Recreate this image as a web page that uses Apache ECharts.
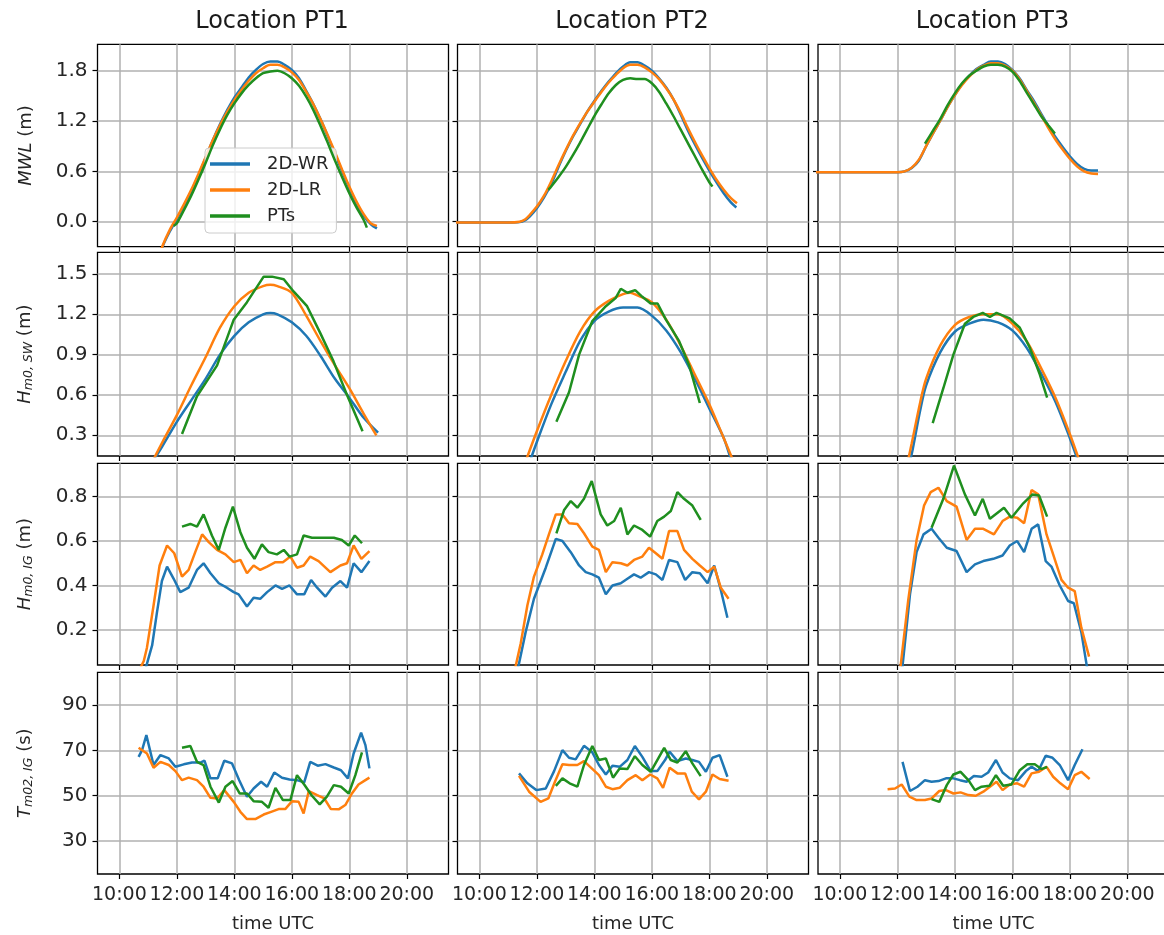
<!DOCTYPE html>
<html><head><meta charset="utf-8">
<script src="https://cdn.jsdelivr.net/npm/echarts@6/dist/echarts.min.js"></script>
<style>html,body{margin:0;padding:0;background:#fff}#c{width:1164px;height:935px}</style>
</head><body><div id="c"></div><script>
// ---------------- DATA (time in decimal hours UTC, value) ----------------
const locations = ['Location PT1', 'Location PT2', 'Location PT3'];
const seriesNames = ['2D-WR', '2D-LR', 'PTs'];
const xTickValues = [10, 12, 14, 16, 18, 20];
const xTickLabels = ['10:00', '12:00', '14:00', '16:00', '18:00', '20:00'];
const yTickValues = [[0, 0.6, 1.2, 1.8], [0.3, 0.6, 0.9, 1.2, 1.5], [0.2, 0.4, 0.6, 0.8], [30, 50, 70, 90]];
const yTickLabels = [['0.0', '0.6', '1.2', '1.8'], ['0.3', '0.6', '0.9', '1.2', '1.5'], ['0.2', '0.4', '0.6', '0.8'], ['30', '50', '70', '90']];
const yNames = ['{i|MWL} (m)', '{i|H}{s|m0, SW} (m)', '{i|H}{s|m0, IG} (m)', '{i|T}{s|m02, IG} (s)'];

// Row 1: MWL (m)
const mwl_PT1_WR = [[11.3,-0.5],[11.5,-0.30],[11.75,-0.12],[12.0,0.03],[12.25,0.19],[12.5,0.36],[12.75,0.55],[13.0,0.76],[13.25,0.97],[13.5,1.16],[13.75,1.33],[14.0,1.48],[14.25,1.60],[14.5,1.72],[14.75,1.81],[15.0,1.88],[15.25,1.91],[15.5,1.91],[15.75,1.87],[16.0,1.81],[16.25,1.71],[16.5,1.56],[16.75,1.40],[17.0,1.22],[17.25,1.02],[17.5,0.81],[17.75,0.60],[18.0,0.40],[18.25,0.22],[18.5,0.07],[18.75,-0.03],[18.96,-0.08]];
const mwl_PT1_LR = [[11.3,-0.5],[11.5,-0.29],[11.75,-0.10],[12.0,0.05],[12.25,0.21],[12.5,0.38],[12.75,0.57],[13.0,0.77],[13.25,0.97],[13.5,1.15],[13.75,1.31],[14.0,1.45],[14.25,1.57],[14.5,1.68],[14.75,1.77],[15.0,1.83],[15.25,1.87],[15.5,1.87],[15.75,1.84],[16.0,1.78],[16.25,1.69],[16.5,1.55],[16.75,1.40],[17.0,1.22],[17.25,1.03],[17.5,0.83],[17.75,0.62],[18.0,0.42],[18.25,0.24],[18.5,0.09],[18.75,-0.02],[18.96,-0.05]];
const mwl_PT1_PT = [[11.89,-0.05],[12.0,-0.02],[12.25,0.14],[12.5,0.31],[12.75,0.50],[13.0,0.70],[13.25,0.91],[13.5,1.10],[13.75,1.27],[14.0,1.41],[14.25,1.53],[14.5,1.63],[14.75,1.71],[15.0,1.77],[15.25,1.79],[15.5,1.80],[15.75,1.77],[16.0,1.71],[16.25,1.62],[16.5,1.49],[16.75,1.33],[17.0,1.14],[17.25,0.94],[17.5,0.73],[17.75,0.53],[18.0,0.34],[18.25,0.17],[18.5,0.02],[18.61,-0.07]];
const mwl_PT2_WR = [[9.0,-0.01],[10.0,-0.01],[11.0,-0.01],[11.4,-0.005],[11.6,0.02],[11.75,0.06],[12.0,0.16],[12.25,0.29],[12.5,0.45],[12.75,0.65],[13.0,0.84],[13.25,1.01],[13.5,1.16],[13.75,1.31],[14.0,1.44],[14.25,1.56],[14.5,1.67],[14.75,1.77],[15.0,1.85],[15.25,1.90],[15.5,1.90],[15.75,1.86],[16.0,1.80],[16.25,1.71],[16.5,1.60],[16.75,1.46],[17.0,1.28],[17.25,1.09],[17.5,0.92],[17.75,0.76],[18.0,0.61],[18.25,0.47],[18.5,0.34],[18.75,0.23],[18.94,0.17]];
const mwl_PT2_LR = [[9.0,-0.01],[10.0,-0.01],[11.0,-0.01],[11.4,0.0],[11.6,0.03],[11.75,0.08],[12.0,0.18],[12.25,0.31],[12.5,0.48],[12.75,0.67],[13.0,0.85],[13.25,1.02],[13.5,1.17],[13.75,1.31],[14.0,1.43],[14.25,1.55],[14.5,1.66],[14.75,1.75],[15.0,1.83],[15.25,1.87],[15.5,1.87],[15.75,1.84],[16.0,1.78],[16.25,1.70],[16.5,1.59],[16.75,1.46],[17.0,1.30],[17.25,1.12],[17.5,0.95],[17.75,0.79],[18.0,0.64],[18.25,0.50],[18.5,0.38],[18.75,0.28],[18.96,0.22]];
const mwl_PT2_PT = [[12.40,0.38],[12.5,0.42],[12.75,0.53],[13.0,0.65],[13.25,0.79],[13.5,0.94],[13.75,1.10],[14.0,1.26],[14.25,1.40],[14.5,1.53],[14.75,1.63],[15.0,1.69],[15.25,1.71],[15.5,1.70],[15.75,1.70],[16.0,1.65],[16.25,1.55],[16.5,1.41],[16.75,1.26],[17.0,1.10],[17.25,0.94],[17.5,0.78],[17.75,0.62],[18.0,0.47],[18.11,0.42]];
const mwl_PT3_WR = [[9.0,0.59],[10.0,0.59],[11.0,0.59],[12.0,0.59],[12.25,0.60],[12.5,0.64],[12.75,0.73],[13.0,0.90],[13.25,1.06],[13.5,1.21],[13.75,1.37],[14.0,1.51],[14.25,1.64],[14.5,1.74],[14.75,1.82],[15.0,1.87],[15.25,1.91],[15.5,1.91],[15.75,1.88],[16.0,1.81],[16.25,1.71],[16.5,1.57],[16.75,1.44],[17.0,1.29],[17.25,1.14],[17.5,1.01],[17.75,0.89],[18.0,0.78],[18.25,0.69],[18.5,0.63],[18.75,0.61],[18.98,0.61]];
const mwl_PT3_LR = [[9.0,0.59],[10.0,0.59],[11.0,0.59],[12.0,0.59],[12.25,0.60],[12.5,0.645],[12.75,0.74],[13.0,0.90],[13.25,1.06],[13.5,1.21],[13.75,1.37],[14.0,1.51],[14.25,1.63],[14.5,1.73],[14.75,1.81],[15.0,1.86],[15.25,1.89],[15.5,1.89],[15.75,1.86],[16.0,1.80],[16.25,1.70],[16.5,1.56],[16.75,1.42],[17.0,1.27],[17.25,1.12],[17.5,0.98],[17.75,0.86],[18.0,0.75],[18.25,0.66],[18.5,0.60],[18.75,0.575],[18.98,0.57]];
const mwl_PT3_PT = [[12.96,0.93],[13.25,1.09],[13.5,1.23],[13.75,1.39],[14.0,1.53],[14.25,1.65],[14.5,1.74],[14.75,1.80],[15.0,1.85],[15.25,1.87],[15.5,1.87],[15.75,1.85],[16.0,1.79],[16.25,1.68],[16.5,1.54],[16.75,1.40],[17.0,1.26],[17.25,1.15],[17.48,1.05]];

// Row 2: Hm0,SW (m)
const hsw_PT1_WR = [[11.0,0.05],[11.5,0.22],[12.0,0.40],[12.5,0.56],[13.0,0.72],[13.5,0.90],[14.0,1.04],[14.5,1.14],[15.0,1.20],[15.25,1.21],[15.5,1.20],[16.0,1.14],[16.5,1.04],[17.0,0.89],[17.5,0.72],[18.0,0.58],[18.5,0.43],[19.0,0.32]];
const hsw_PT1_LR = [[11.0,0.04],[11.25,0.146],[11.5,0.25],[12.0,0.45],[12.5,0.67],[13.0,0.88],[13.5,1.10],[14.0,1.26],[14.5,1.36],[15.0,1.41],[15.25,1.42],[15.5,1.41],[16.0,1.36],[16.5,1.19],[17.0,1.00],[17.5,0.82],[18.0,0.65],[18.5,0.46],[18.94,0.30]];
const hsw_PT1_PT = [[12.18,0.31],[12.70,0.59],[13.40,0.82],[13.98,1.16],[14.44,1.29],[15.02,1.48],[15.31,1.48],[15.72,1.46],[16.06,1.37],[16.53,1.26],[16.99,1.06],[17.45,0.85],[17.92,0.60],[18.46,0.33]];
const hsw_PT2_WR = [[11.75,0.10],[12.0,0.25],[12.5,0.53],[13.0,0.77],[13.5,1.0],[14.0,1.15],[14.5,1.22],[15.0,1.25],[15.5,1.25],[16.0,1.19],[16.5,1.08],[17.0,0.92],[17.5,0.72],[18.0,0.50],[18.5,0.28],[18.75,0.12]];
const hsw_PT2_LR = [[11.6,0.10],[12.0,0.33],[12.5,0.60],[13.0,0.85],[13.5,1.07],[14.0,1.22],[14.5,1.30],[15.0,1.35],[15.25,1.36],[15.5,1.34],[16.0,1.29],[16.5,1.16],[17.0,0.97],[17.5,0.75],[18.0,0.53],[18.5,0.28],[18.85,0.10]];
const hsw_PT2_PT = [[12.68,0.40],[13.12,0.62],[13.47,0.90],[13.93,1.15],[14.4,1.26],[14.74,1.32],[14.92,1.39],[15.15,1.36],[15.42,1.38],[15.67,1.33],[15.96,1.28],[16.2,1.28],[16.49,1.16],[16.95,1.0],[17.3,0.82],[17.67,0.54]];
const hsw_PT3_WR = [[12.42,0.10],[12.5,0.16],[12.79,0.48],[13.0,0.67],[13.5,0.92],[14.0,1.07],[14.5,1.13],[15.0,1.16],[15.5,1.14],[16.0,1.08],[16.5,0.95],[17.0,0.76],[17.5,0.55],[18.0,0.28],[18.3,0.10]];
const hsw_PT3_LR = [[12.36,0.10],[12.5,0.24],[12.8,0.55],[13.0,0.72],[13.5,0.97],[14.0,1.12],[14.5,1.18],[15.0,1.20],[15.5,1.20],[16.0,1.13],[16.5,1.00],[17.0,0.80],[17.5,0.58],[18.0,0.31],[18.35,0.10]];
const hsw_PT3_PT = [[13.23,0.39],[13.6,0.65],[13.95,0.90],[14.35,1.13],[14.64,1.18],[14.97,1.21],[15.22,1.18],[15.45,1.21],[15.91,1.17],[16.26,1.10],[16.61,0.95],[16.96,0.75],[17.21,0.58]];

// Row 3: Hm0,IG (m)
const hig_PT1_WR = [[10.9,0.02],[11.14,0.13],[11.31,0.28],[11.48,0.42],[11.66,0.485],[11.89,0.43],[12.12,0.37],[12.41,0.39],[12.70,0.47],[12.93,0.50],[13.17,0.455],[13.46,0.41],[13.74,0.39],[13.98,0.37],[14.15,0.36],[14.44,0.305],[14.67,0.345],[14.9,0.34],[15.14,0.37],[15.43,0.40],[15.66,0.385],[15.92,0.40],[16.18,0.36],[16.43,0.36],[16.67,0.425],[16.88,0.39],[17.17,0.35],[17.40,0.39],[17.69,0.42],[17.92,0.39],[18.15,0.50],[18.42,0.46],[18.70,0.51]];
const hig_PT1_LR = [[10.7,0.02],[10.85,0.06],[10.96,0.12],[11.19,0.31],[11.40,0.49],[11.66,0.58],[11.91,0.545],[12.18,0.44],[12.41,0.47],[12.64,0.55],[12.88,0.63],[13.11,0.595],[13.40,0.56],[13.69,0.54],[13.98,0.505],[14.21,0.515],[14.44,0.455],[14.67,0.49],[14.9,0.47],[15.14,0.485],[15.43,0.505],[15.69,0.505],[15.95,0.53],[16.18,0.48],[16.41,0.49],[16.64,0.53],[16.93,0.51],[17.34,0.46],[17.69,0.49],[17.92,0.50],[18.15,0.58],[18.42,0.52],[18.70,0.555]];
const hig_PT1_PT = [[12.18,0.665],[12.47,0.677],[12.70,0.665],[12.93,0.72],[13.22,0.625],[13.46,0.56],[13.69,0.66],[13.95,0.755],[14.21,0.64],[14.44,0.57],[14.70,0.52],[14.96,0.585],[15.19,0.55],[15.48,0.54],[15.72,0.56],[15.92,0.53],[16.18,0.54],[16.41,0.625],[16.70,0.615],[17.11,0.615],[17.46,0.615],[17.74,0.605],[17.98,0.58],[18.19,0.625],[18.44,0.59]];
const hig_PT2_WR = [[11.3,0.0],[11.61,0.19],[11.90,0.34],[12.31,0.48],[12.66,0.61],[12.89,0.60],[13.18,0.55],[13.47,0.49],[13.70,0.46],[13.93,0.45],[14.16,0.435],[14.40,0.36],[14.63,0.40],[14.92,0.41],[15.15,0.43],[15.38,0.45],[15.61,0.435],[15.90,0.46],[16.14,0.45],[16.37,0.425],[16.60,0.515],[16.89,0.505],[17.16,0.425],[17.41,0.46],[17.67,0.455],[17.94,0.41],[18.17,0.49],[18.40,0.38],[18.63,0.255]];
const hig_PT2_LR = [[11.2,0.0],[11.44,0.14],[11.67,0.31],[11.90,0.44],[12.19,0.54],[12.42,0.63],[12.66,0.72],[12.89,0.72],[13.12,0.68],[13.41,0.677],[13.64,0.635],[13.93,0.575],[14.16,0.56],[14.40,0.46],[14.63,0.505],[14.92,0.50],[15.15,0.49],[15.38,0.515],[15.67,0.53],[15.90,0.57],[16.14,0.545],[16.37,0.52],[16.60,0.645],[16.89,0.645],[17.12,0.56],[17.41,0.52],[17.67,0.49],[17.94,0.46],[18.17,0.485],[18.40,0.39],[18.67,0.34]];
const hig_PT2_PT = [[12.68,0.635],[12.95,0.74],[13.18,0.78],[13.41,0.75],[13.64,0.79],[13.91,0.87],[14.22,0.72],[14.45,0.67],[14.69,0.69],[14.92,0.75],[15.15,0.63],[15.38,0.67],[15.67,0.65],[15.94,0.62],[16.19,0.69],[16.43,0.71],[16.66,0.735],[16.89,0.82],[17.12,0.79],[17.41,0.76],[17.70,0.695]];
const hig_PT3_WR = [[12.15,0.0],[12.44,0.36],[12.67,0.55],[12.91,0.63],[13.19,0.655],[13.43,0.615],[13.72,0.57],[14.06,0.555],[14.41,0.46],[14.70,0.495],[14.99,0.51],[15.34,0.52],[15.66,0.535],[15.91,0.58],[16.17,0.60],[16.41,0.55],[16.67,0.655],[16.90,0.675],[17.16,0.51],[17.36,0.485],[17.65,0.40],[17.94,0.33],[18.14,0.32],[18.40,0.19],[18.60,0.03]];
const hig_PT3_LR = [[12.08,0.0],[12.38,0.335],[12.67,0.605],[12.93,0.76],[13.16,0.82],[13.43,0.84],[13.72,0.78],[14.06,0.755],[14.41,0.605],[14.70,0.655],[14.99,0.655],[15.36,0.63],[15.66,0.69],[15.91,0.71],[16.17,0.705],[16.41,0.68],[16.67,0.83],[16.90,0.81],[17.19,0.63],[17.42,0.54],[17.71,0.425],[17.94,0.39],[18.17,0.375],[18.40,0.21],[18.67,0.08]];
const hig_PT3_PT = [[13.19,0.66],[13.60,0.79],[13.97,0.94],[14.35,0.81],[14.70,0.715],[14.97,0.79],[15.22,0.70],[15.71,0.75],[15.97,0.705],[16.38,0.77],[16.70,0.81],[16.93,0.805],[17.21,0.71]];

// Row 4: Tm02,IG (s)
const tig_PT1_WR = [[10.67,67.1],[10.79,70.1],[10.94,76.7],[11.19,63.5],[11.43,67.9],[11.72,66.4],[11.95,62.7],[12.24,63.8],[12.53,64.6],[12.82,64.6],[12.96,65.4],[13.17,57.6],[13.42,57.6],[13.65,65.4],[13.92,64.2],[14.17,56.8],[14.44,49.5],[14.67,53.1],[14.93,56.1],[15.14,53.9],[15.39,60.2],[15.66,57.9],[15.92,57.1],[16.18,56.8],[16.43,55.8],[16.64,64.9],[16.90,63.2],[17.17,63.9],[17.46,62.4],[17.71,61.2],[17.95,57.6],[18.15,68.6],[18.41,77.8],[18.56,72.3],[18.70,62.0]];
const tig_PT1_LR = [[10.67,71.1],[10.96,68.6],[11.19,62.3],[11.43,64.9],[11.72,63.5],[11.95,60.8],[12.18,56.8],[12.41,57.9],[12.70,56.8],[12.93,53.9],[13.17,49.0],[13.40,48.7],[13.65,52.4],[13.98,47.2],[14.21,42.8],[14.44,39.6],[14.73,39.6],[15.02,41.6],[15.28,42.8],[15.54,44.0],[15.77,44.0],[16.01,47.5],[16.24,47.2],[16.41,42.1],[16.59,52.0],[16.88,50.2],[17.13,48.7],[17.36,44.0],[17.63,43.9],[17.86,45.8],[18.09,50.9],[18.32,54.9],[18.56,56.8],[18.70,57.9]];
const tig_PT1_PT = [[12.18,71.1],[12.47,71.9],[12.70,64.9],[12.93,63.5],[13.17,53.9],[13.46,46.9],[13.69,53.9],[13.94,56.4],[14.19,50.9],[14.44,50.9],[14.67,47.5],[14.96,47.2],[15.19,44.6],[15.43,53.4],[15.69,48.0],[15.95,48.0],[16.18,59.0],[16.43,54.9],[16.70,49.9],[16.97,46.1],[17.22,49.5],[17.46,54.6],[17.71,53.9],[17.98,50.9],[18.21,59.0],[18.44,69.1]];
const tig_PT2_WR = [[11.38,59.8],[11.67,55.4],[11.98,52.4],[12.31,53.1],[12.60,60.8],[12.89,70.1],[13.12,66.7],[13.35,66.0],[13.64,72.0],[13.93,69.1],[14.16,63.5],[14.40,59.3],[14.63,63.2],[14.88,62.7],[15.15,65.7],[15.41,71.9],[15.67,67.1],[15.96,60.8],[16.19,60.8],[16.46,65.7],[16.62,69.4],[16.89,65.2],[17.18,66.4],[17.41,65.7],[17.64,64.9],[17.88,60.5],[18.11,66.7],[18.36,67.9],[18.63,58.3]];
const tig_PT2_LR = [[11.38,58.7],[11.73,51.7],[12.13,47.2],[12.40,48.7],[12.63,56.1],[12.89,63.8],[13.12,63.5],[13.41,63.5],[13.64,65.2],[13.91,62.0],[14.16,59.0],[14.40,53.9],[14.63,52.8],[14.88,53.4],[15.15,56.8],[15.44,59.0],[15.67,56.8],[15.94,59.3],[16.19,57.6],[16.39,53.4],[16.62,62.3],[16.89,59.8],[17.16,59.8],[17.39,51.7],[17.64,48.3],[17.88,51.7],[18.11,59.3],[18.36,57.3],[18.67,56.5]];
const tig_PT2_PT = [[12.66,54.3],[12.89,57.6],[13.14,55.4],[13.41,53.9],[13.64,63.5],[13.93,71.9],[14.16,65.7],[14.40,66.4],[14.65,57.9],[14.88,62.0],[15.15,61.7],[15.41,67.4],[15.67,63.5],[15.96,60.5],[16.19,65.7],[16.43,71.1],[16.66,65.7],[16.89,64.6],[17.18,69.6],[17.41,64.2],[17.70,58.6]];
const tig_PT3_WR = [[12.18,64.9],[12.44,52.0],[12.70,53.9],[12.96,56.8],[13.19,56.1],[13.43,56.4],[13.69,57.6],[13.95,57.6],[14.18,56.8],[14.41,56.1],[14.66,58.6],[14.93,58.3],[15.16,60.2],[15.43,65.7],[15.66,60.2],[15.91,57.6],[16.20,56.8],[16.47,60.8],[16.67,62.7],[16.90,60.8],[17.16,67.6],[17.40,66.7],[17.65,63.5],[17.94,56.8],[18.17,63.5],[18.44,70.5]];
const tig_PT3_LR = [[11.66,52.8],[11.92,53.1],[12.15,54.9],[12.42,49.5],[12.67,48.0],[12.96,48.0],[13.19,48.7],[13.46,52.0],[13.69,52.4],[13.95,50.9],[14.20,51.4],[14.47,50.2],[14.73,49.9],[14.99,51.7],[15.22,53.9],[15.45,56.1],[15.66,52.4],[15.91,54.9],[16.17,55.4],[16.41,53.9],[16.67,59.8],[16.93,60.5],[17.19,62.7],[17.42,58.3],[17.67,55.4],[17.94,52.8],[18.17,59.0],[18.40,60.5],[18.69,57.3]];
const tig_PT3_PT = [[13.19,48.4],[13.46,47.2],[13.72,54.6],[13.95,59.3],[14.20,60.5],[14.47,56.8],[14.70,52.4],[14.93,53.9],[15.20,54.3],[15.43,59.0],[15.68,54.3],[15.97,54.9],[16.26,61.2],[16.52,63.8],[16.78,63.8],[17.01,61.7],[17.21,62.7]];

// ---------------- assemble ----------------
const panels = [
  [[mwl_PT1_WR, mwl_PT1_LR, mwl_PT1_PT], [mwl_PT2_WR, mwl_PT2_LR, mwl_PT2_PT], [mwl_PT3_WR, mwl_PT3_LR, mwl_PT3_PT]],
  [[hsw_PT1_WR, hsw_PT1_LR, hsw_PT1_PT], [hsw_PT2_WR, hsw_PT2_LR, hsw_PT2_PT], [hsw_PT3_WR, hsw_PT3_LR, hsw_PT3_PT]],
  [[hig_PT1_WR, hig_PT1_LR, hig_PT1_PT], [hig_PT2_WR, hig_PT2_LR, hig_PT2_PT], [hig_PT3_WR, hig_PT3_LR, hig_PT3_PT]],
  [[tig_PT1_WR, tig_PT1_LR, tig_PT1_PT], [tig_PT2_WR, tig_PT2_LR, tig_PT2_PT], [tig_PT3_WR, tig_PT3_LR, tig_PT3_PT]]
];

// layout & style (not data)
const FONT = 'DejaVu Sans';
const TXT = '#262626';
const colors = ['#1f77b4', '#ff7f0e', '#1f8f1f'];
const colLeft = [97.5, 457.5, 818];
const colW = 351;
const rowTop = [44.3, 252.3, 463.3, 672.3];
const rowH = [202.4, 203.7, 201.7, 201.7];
const xRange = [9.24, 21.45];
const yRange = [[-0.298, 2.115], [0.146, 1.661], [0.042, 0.950], [15.3, 104.5]];
const smoothRows = [true, true, false, false];

const option = {
  animation: false,
  backgroundColor: '#ffffff',
  textStyle: { fontFamily: FONT },
  title: locations.map((t, c) => ({
    text: t, left: colLeft[c] + colW / 2 - 1, top: 10, padding: 0, textAlign: 'center',
    textStyle: { fontSize: 24, fontWeight: 'normal', color: '#1a1a1a', fontFamily: FONT }
  })),
  legend: {
    left: 205, top: 148, orient: 'vertical',
    data: seriesNames,
    icon: 'rect', itemWidth: 40, itemHeight: 3.5, itemGap: 8,
    padding: [7, 8, 8, 5],
    backgroundColor: 'rgba(255,255,255,0.8)',
    borderColor: '#cccccc', borderWidth: 1, borderRadius: 4,
    selectedMode: false,
    textStyle: { fontSize: 18, fontFamily: FONT, color: TXT, padding: [0, 0, 0, 12] }
  },
  grid: [], xAxis: [], yAxis: [], series: []
};

for (let r = 0; r < 4; r++) {
  for (let c = 0; c < 3; c++) {
    const p = r * 3 + c;
    option.grid.push({
      left: colLeft[c], top: rowTop[r], width: colW, height: rowH[r],
      show: true, borderColor: '#000', borderWidth: 1.3, backgroundColor: 'transparent',
      containLabel: false, outerBoundsMode: 'none'
    });
    option.xAxis.push({
      gridIndex: p, type: 'value', min: xRange[0], max: xRange[1],
      axisLine: { show: false, onZero: false },
      axisTick: { show: true, inside: false, length: 5, customValues: xTickValues, lineStyle: { color: '#000', width: 1.2 } },
      axisLabel: {
        show: r === 3, customValues: xTickValues, margin: 12,
        fontSize: 19, color: TXT, fontFamily: FONT,
        formatter: v => { const i = xTickValues.indexOf(v); return i >= 0 ? xTickLabels[i] : ''; }
      },
      splitLine: { show: true, lineStyle: { color: '#b0b0b0', width: 1.5 } },
      name: r === 3 ? 'time UTC' : '', nameLocation: 'middle', nameGap: 41,
      nameTextStyle: { fontSize: 18, color: TXT, fontFamily: FONT }
    });
    const ticks = yTickValues[r], labels = yTickLabels[r];
    option.yAxis.push({
      gridIndex: p, type: 'value', min: yRange[r][0], max: yRange[r][1],
      axisLine: { show: false, onZero: false },
      axisTick: { show: true, inside: false, length: 5, customValues: ticks, lineStyle: { color: '#000', width: 1.2 } },
      axisLabel: {
        show: c === 0, customValues: ticks, margin: 10,
        fontSize: 20, color: TXT, fontFamily: FONT,
        formatter: v => { let i = ticks.indexOf(v); if (i < 0) i = ticks.findIndex(t => Math.abs(t - v) < 1e-9); return i >= 0 ? labels[i] : ''; }
      },
      splitLine: { show: true, lineStyle: { color: '#b0b0b0', width: 1.5 } },
      name: c === 0 ? yNames[r] : '', nameLocation: 'middle', nameRotate: 90, nameGap: 62,
      nameTextStyle: {
        fontSize: 18, color: TXT, fontFamily: FONT,
        rich: {
          i: { fontSize: 18, fontStyle: 'italic', color: TXT, fontFamily: FONT },
          s: { fontSize: 12.5, fontStyle: 'italic', color: TXT, fontFamily: FONT, verticalAlign: 'bottom', padding: [8, 0, 0, 0] }
        }
      }
    });
    for (let s = 0; s < 3; s++) {
      option.series.push({
        type: 'line', name: seriesNames[s], xAxisIndex: p, yAxisIndex: p,
        data: panels[r][c][s], showSymbol: false, symbol: 'none',
        smooth: smoothRows[r] && !(r === 1 && s === 2) ? 0.3 : false,
        clip: true,
        lineStyle: { color: colors[s], width: 2.5 },
        itemStyle: { color: colors[s] },
        z: 2 + s
      });
    }
  }
}

const chart = echarts.init(document.getElementById('c'), null, { renderer: 'canvas' });
chart.setOption(option);
</script></body></html>
